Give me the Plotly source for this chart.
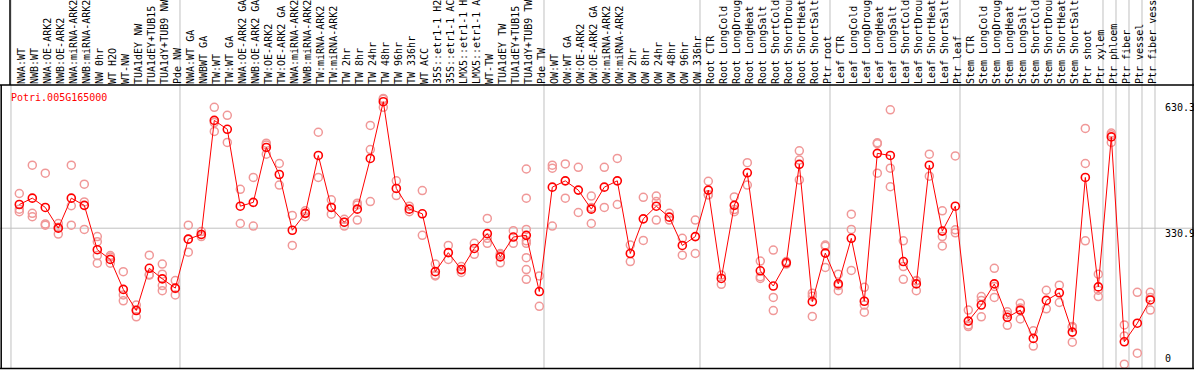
import plotly.graph_objects as go

gene = "Potri.005G165000"

categories = [
    "NWA:WT", "NWB:WT", "NWA:OE-ARK2", "NWB:OE-ARK2", "NWA:miRNA-ARK2", "NWB:miRNA-ARK2",
    "NW 0hr", "WT H2O", "WT-NW", "TUA1dEY NW", "TUA1dEY+TUB15 NW", "TUA1dY+TUB9 NW", "Pde NW",
    "NWA:WT GA", "NWBWT GA", "TW:WT", "TW:WT GA", "NWA:OE-ARK2 GA", "NWB:OE-ARK2 GA",
    "TW:OE-ARK2", "TW:OE-ARK2 GA", "NWA:miRNA-ARK2 GA", "NWB:miRNA-ARK2 GA", "TW:miRNA-ARK2",
    "TW:miRNA-ARK2 GA", "TW 2hr", "TW 8hr", "TW 24hr", "TW 48hr", "TW 96hr", "TW 336hr",
    "WT ACC", "35S::etr1-1 H2O", "35S::etr1-1 ACC", "LMX5::etr1-1 H2O", "LMX5::etr1-1 ACC",
    "WT-TW", "TUA1dEY TW", "TUA1dEY+TUB15 TW", "TUA1dY+TUB9 TW", "Pde TW",
    "OW:WT", "OW:WT GA", "OW:OE-ARK2", "OW:OE-ARK2 GA", "OW:miRNA-ARK2", "OW:miRNA-ARK2 GA",
    "OW 2hr", "OW 8hr", "OW 24hr", "OW 48hr", "OW 96hr", "OW 336hr",
    "Root CTR", "Root LongCold", "Root LongDrought", "Root LongHeat", "Root LongSalt",
    "Root ShortCold", "Root ShortDrought", "Root ShortHeat", "Root ShortSalt", "Ptr root",
    "Leaf CTR", "Leaf LongCold", "Leaf LongDrought", "Leaf LongHeat", "Leaf LongSalt",
    "Leaf ShortCold", "Leaf ShortDrought", "Leaf ShortHeat", "Leaf ShortSalt", "Ptr leaf",
    "Stem CTR", "Stem LongCold", "Stem LongDrought", "Stem LongHeat", "Stem LongSalt",
    "Stem ShortCold", "Stem ShortDrought", "Stem ShortHeat", "Stem ShortSalt", "Ptr shoot",
    "Ptr xylem", "Ptr phloem", "Ptr fiber", "Ptr vessel", "Ptr fiber vessel",
]

mean_values = [
    387, 402, 380, 331, 402, 385, 280, 257, 186, 136, 236, 211, 189,
    305, 316, 586, 565, 383, 392, 522, 458, 326, 366, 503, 380, 345, 376, 496, 630.3, 425,
    376, 365, 228, 273, 233, 283, 318, 263, 310, 314, 181,
    428, 443, 421, 376, 428, 443, 271, 353, 383, 357, 290, 311,
    421, 212, 385, 462, 230, 194, 249, 482, 157, 272,
    199, 307, 158, 508, 503, 252, 199, 480, 324, 383,
    111, 149, 199, 120, 137, 70, 160, 178, 85, 451,
    192, 547, 62, 106, 161,
]

replicate_values = [
    [413, 376, 370], [480, 366, 358], [461, 341, 338], [342, 333, 317], [480, 384, 338],
    [435, 393, 328], [311, 299, 266, 248], [266, 263, 248], [228, 173, 159], [149, 138, 121],
    [267, 221, 220], [246, 222, 195, 183], [207, 188, 173],
    [338, 305, 274], [323, 316, 311], [617, 581, 560], [598, 534], [423, 342], [451, 336],
    [532, 528, 506], [484, 433], [361, 290], [372, 366, 358], [558, 451], [398, 380, 364],
    [352, 345, 336], [390, 386, 350], [574, 517, 394], [638, 636, 617], [443, 408],
    [383, 370], [420, 314], [246, 220, 218], [290, 257], [240, 232, 226], [295, 269],
    [354, 307, 295], [271, 268, 249], [325, 295], [471, 402, 328, 301, 295, 261, 233, 210],
    [218, 146],
    [480, 473, 336], [483, 402], [475, 368], [407, 380, 342], [475, 380], [496, 387],
    [291, 252], [404, 302], [407, 394, 350], [366, 350], [307, 267], [350, 271],
    [442, 410, 410], [220, 198], [405, 375, 370], [486, 433], [253, 216, 212],
    [279, 167, 136], [252, 246], [514, 492, 445], [177, 170, 122], [291, 288, 238],
    [222, 195, 183], [364, 328, 231], [191, 149, 132], [533, 531, 461], [611, 473, 429],
    [301, 240, 210], [207, 206, 183], [506, 454], [372, 311, 289], [502, 327, 320],
    [137, 102, 98], [169, 160, 121], [236, 193, 167], [133, 126, 101], [153, 142, 116],
    [88, 52], [184, 140], [196, 155], [98, 96, 61], [567, 484, 301],
    [222, 184, 169], [556, 552, 534], [102, 76, 9], [179, 35], [179, 167, 137],
]

y_tick_values = [0, 330.9, 630.3]
y_tick_labels = ["0", "330.9", "630.3"]
# group separators: after these category counts
group_breaks = [0, 13, 41, 53, 63, 73, 84, 85, 86, 87, 88]

W, H = 1194, 370
TOP, BOT = 85, 1
MAXCH = 14
x_idx = list(range(len(categories)))
x_labels = [c[:MAXCH] for c in categories]
x_range = [-1.4846, 90.36]
y_range = [-2.37, 669.8]
FONT = "DejaVu Sans Mono"

rep_x, rep_y = [], []
for i, reps in enumerate(replicate_values):
    for v in reps:
        rep_x.append(i)
        rep_y.append(v)

fig = go.Figure()
fig.add_trace(go.Scatter(
    x=rep_x, y=rep_y, mode="markers",
    marker=dict(symbol="circle-open", size=8, color="#f09898", line=dict(width=1.5)),
    hoverinfo="skip", showlegend=False, cliponaxis=False,
))
fig.add_trace(go.Scatter(
    x=x_idx, y=mean_values, mode="lines+markers",
    line=dict(color="#ff0000", width=1),
    marker=dict(symbol="circle-open", size=8, color="#ff0000", line=dict(width=1.6)),
    showlegend=False, cliponaxis=False,
))

def xpaper(v):
    return (v - x_range[0]) / (x_range[1] - x_range[0])

def ypaper_px(py):
    return (H - BOT - py) / (H - TOP - BOT)

shapes = []
shapes.append(dict(type="line", xref="paper", yref="y", x0=0, x1=1, y0=330.9, y1=330.9,
                   line=dict(color="#c0c0c0", width=1), layer="below"))
for b in group_breaks:
    xp = xpaper(b - 1 + 0.36)
    shapes.append(dict(type="line", xref="paper", yref="paper", x0=xp, x1=xp,
                       y0=0, y1=ypaper_px(0), line=dict(color="#c0c0c0", width=1), layer="below"))
blk = dict(color="#000000", width=1.5)
shapes.append(dict(type="line", xref="paper", yref="paper", x0=0, x1=1,
                   y0=ypaper_px(85), y1=ypaper_px(85), line=blk))
shapes.append(dict(type="line", xref="paper", yref="paper", x0=0, x1=1,
                   y0=ypaper_px(368.5), y1=ypaper_px(368.5), line=blk))
shapes.append(dict(type="line", xref="paper", yref="paper", x0=1.2 / W, x1=1.2 / W,
                   y0=ypaper_px(85), y1=ypaper_px(369), line=blk))
shapes.append(dict(type="line", xref="paper", yref="paper", x0=10 / W, x1=10 / W,
                   y0=ypaper_px(0), y1=ypaper_px(85), line=blk))
shapes.append(dict(type="line", xref="paper", yref="paper", x0=1193 / W, x1=1193 / W,
                   y0=ypaper_px(0), y1=ypaper_px(369), line=blk))

annotations = [dict(text=gene, xref="paper", yref="paper", x=9 / W, y=ypaper_px(97),
                    xanchor="left", yanchor="middle", showarrow=False,
                    font=dict(family=FONT, size=10, color="#ff0000"))]
for v, t in zip(y_tick_values, y_tick_labels):
    annotations.append(dict(text=t, xref="paper", yref="y", x=1163 / W, y=v,
                            xanchor="left", yanchor="bottom" if v == 0 else "top",
                            yshift=2, showarrow=False,
                            font=dict(family=FONT, size=10, color="#000000")))

fig.update_layout(
    width=W, height=H, template="none",
    margin=dict(l=0, r=0, t=TOP, b=BOT, pad=0),
    paper_bgcolor="white", plot_bgcolor="white",
    xaxis=dict(range=x_range, side="top", tickmode="array", tickvals=x_idx, ticktext=x_labels,
               tickangle=-90, ticks="", showgrid=False, zeroline=False, showline=False,
               ticklabelshift=2,
               automargin=False, tickfont=dict(family=FONT, size=10, color="#000000")),
    yaxis=dict(range=y_range, showticklabels=False, showgrid=False, zeroline=False,
               showline=False, ticks="", automargin=False),
    shapes=shapes, annotations=annotations,
)

fig.write_html("out.html", config={"displayModeBar": False},
               post_script="document.body.style.margin='0';document.body.style.padding='0';")
